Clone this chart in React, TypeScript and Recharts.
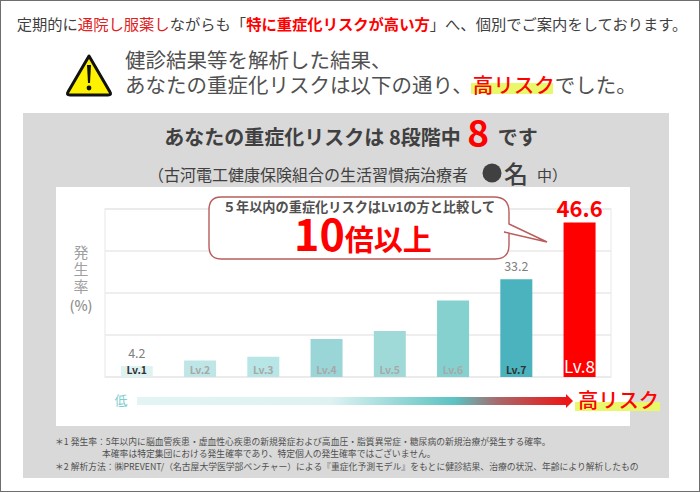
import React from "react";
import { BarChart, Bar, XAxis, YAxis, CartesianGrid, Cell, LabelList } from "recharts";

const levels = ["Lv.1", "Lv.2", "Lv.3", "Lv.4", "Lv.5", "Lv.6", "Lv.7", "Lv.8"];
const barHeights = [3.3, 4.9, 6.0, 11.3, 13.7, 22.8, 29.1, 46.0];
const valueLabels = ["4.2", "", "", "", "", "", "33.2", "46.6"];
const barColors = ["#dff2f2", "#bfe6e6", "#b8e5e5", "#9ad6d7", "#9fdad9", "#84d1cf", "#4ab3bd", "#ff0000"];
const levelColors = ["#333333", "#a8a8a8", "#a8a8a8", "#a8a8a8", "#a8a8a8", "#a8a8a8", "#333333", "#ffffff"];
const yTicks = [0, 12.5, 25, 37.5, 50];

const data = levels.map((level, i) => ({ level, value: barHeights[i], label: valueLabels[i], i }));
const FONT = "'Noto Sans CJK JP', sans-serif";

const TopLabel = (p: any) => {
  const { x, y, width, value } = p;
  if (!value) return null;
  const big = value === "46.6";
  return (
    <text x={x + width / 2} y={y - (big ? 5 : 8)} textAnchor="middle" fontFamily={FONT}
      fontSize={big ? 22 : 12.5} fontWeight={big ? 700 : 400} fill={big ? "#ff0000" : "#808080"}>
      {value}
    </text>
  );
};

const InnerLabel = (p: any) => {
  const { x, y, width, height, value, index } = p;
  const big = value === "Lv.8";
  return (
    <text x={x + width / 2} y={y + height - (big ? 4 : 3)} textAnchor="middle" fontFamily={FONT}
      fontSize={big ? 17 : 10.5} fontWeight={big ? 400 : 700} fill={levelColors[index]}>
      {value}
    </text>
  );
};

export default function App() {
  const layer: React.CSSProperties = { position: "absolute", left: 0, top: 0 };
  return (
    <div style={{ position: "absolute", left: 0, top: 0, width: 700, height: 493, background: "#fff", overflow: "hidden" }}>
      <svg width={700} height={493} style={layer} fontFamily={FONT}>
        <rect x={0.5} y={0.5} width={699} height={491} fill="#fff" stroke="#6e6e6e" strokeWidth={1} />
        <text x={352} y={30} textAnchor="middle" fontSize={15.3} fill="#404040">
          定期的に<tspan fill="#e02020">通院し服薬し</tspan>ながらも「<tspan fill="#ff0000" fontWeight={700}>特に重症化リスクが高い方</tspan>」へ、個別でご案内をしております。
        </text>
        <path d="M89 56 L68 92 Q66 95 70 95 L108 95 Q112 95 110 92 Z" fill="#fff200" stroke="#111" strokeWidth={3} strokeLinejoin="round" />
        <path d="M87 65 L91 65 L90 83 L88 83 Z" fill="#111" />
        <circle cx={89} cy={88} r={2.4} fill="#111" />
        <text x={125} y={68} fontSize={20.5} fill="#505050">健診結果等を解析した結果、</text>
        <rect x={471} y={83} width={82} height={11} fill="#e9f76a" />
        <text x={125} y={93} fontSize={20.5} fill="#505050">
          あなたの重症化リスクは以下の通り、<tspan fill="#ff0000" fontWeight={500}>高リスク</tspan>でした。
        </text>
        <rect x={23} y={113} width={646} height={365} fill="#d9d9d9" />
        <text x={351} y={145} textAnchor="middle" fontSize={20} fontWeight={700} fill="#404040">
          あなたの重症化リスクは 8段階中 <tspan fontSize={37} fill="#ff0000" dx={2} dy={2}>8</tspan><tspan dx={4} dy={-2}> です</tspan>
        </text>
        <text x={148} y={181} fontSize={16} fill="#404040">（古河電工健康保険組合の生活習慣病治療者</text>
        <circle cx={492} cy={173} r={9.5} fill="#404040" />
        <text x={504} y={183} fontSize={24} fontWeight={500} fill="#404040">名</text>
        <text x={537} y={181} fontSize={15} fill="#404040">中）</text>
        <rect x={56} y={187} width={574} height={239} fill="#fff" />
        <rect x={105} y={209} width={506} height={168} fill="#fff" stroke="#f0f0f0" strokeWidth={1.5} />
        <text x={81} y={258} textAnchor="middle" fontSize={15} fill="#a0a0a0">発</text>
        <text x={81} y={275} textAnchor="middle" fontSize={15} fill="#a0a0a0">生</text>
        <text x={81} y={292} textAnchor="middle" fontSize={15} fill="#a0a0a0">率</text>
        <text x={81} y={311} textAnchor="middle" fontSize={14} fontWeight={500} fill="#909090">(%)</text>
        <text x={121} y={405} textAnchor="middle" fontSize={13} fill="#7fcfd0">低</text>
        <text x={55} y={445} fontSize={8.8} fill="#505050">＊1 発生率：5年以内に脳血管疾患・虚血性心疾患の新規発症および高血圧・脂質異常症・糖尿病の新規治療が発生する確率。</text>
        <text x={102} y={457} fontSize={8.8} fill="#505050">本確率は特定集団における発生確率であり、特定個人の発生確率ではございません。</text>
        <text x={55} y={470} fontSize={8.8} fill="#505050">＊2 解析方法：㈱PREVENT/（名古屋大学医学部ベンチャー）による『重症化予測モデル』をもとに健診結果、治療の状況、年齢により解析したもの</text>
      </svg>

      <div style={layer}>
        <BarChart width={700} height={493} data={data} barCategoryGap="25%"
          margin={{ top: 209, right: 89, bottom: 116, left: 105 }}>
          <CartesianGrid horizontal vertical={false} stroke="#e8e8e8" strokeWidth={1.5} syncWithTicks />
          <XAxis dataKey="level" hide />
          <YAxis hide domain={[0, 50]} ticks={yTicks} />
          <Bar dataKey="value" isAnimationActive={false}>
            {data.map((d) => <Cell key={d.level} fill={barColors[d.i]} />)}
            <LabelList dataKey="label" content={TopLabel} />
            <LabelList dataKey="level" content={InnerLabel} />
          </Bar>
        </BarChart>
      </div>

      <svg width={700} height={493} style={layer} fontFamily={FONT}>
        <defs>
          <linearGradient id="risk" x1="0" x2="1" y1="0" y2="0">
            <stop offset="0" stopColor="#e2f4f4" />
            <stop offset="0.45" stopColor="#dff2f2" />
            <stop offset="0.74" stopColor="#5bc2c2" />
            <stop offset="0.84" stopColor="#a8686a" />
            <stop offset="1" stopColor="#ee1515" />
          </linearGradient>
        </defs>
        <rect x={137} y={397} width={430} height={8} fill="url(#risk)" />
        <path d="M566 394 L573 401 L566 408 Z" fill="#ee1515" />
        <rect x={575} y={402} width={85} height={9} fill="#e9f76a" />
        <text x={578} y={408} fontSize={20.3} fontWeight={500} fill="#ff0000">高リスク</text>
        <path d="M221 197 L494 197 Q509 197 509 212 L509 224 L547 242 L504 232 L509 233 L509 245 Q509 259 495 259 L221 259 Q209 259 209 246 L209 210 Q209 197 221 197 Z"
          fill="#fff" stroke="#b85c5c" strokeWidth={1.4} />
        <text x={359} y={212} textAnchor="middle" fontSize={13.2} fontWeight={700} fill="#505050">５年以内の重症化リスクはLv1の方と比較して</text>
        <text x={363} y={251} textAnchor="middle" fontSize={29} fontWeight={700} fill="#ff0000">
          <tspan fontSize={43}>10</tspan>倍以上
        </text>
      </svg>
    </div>
  );
}
